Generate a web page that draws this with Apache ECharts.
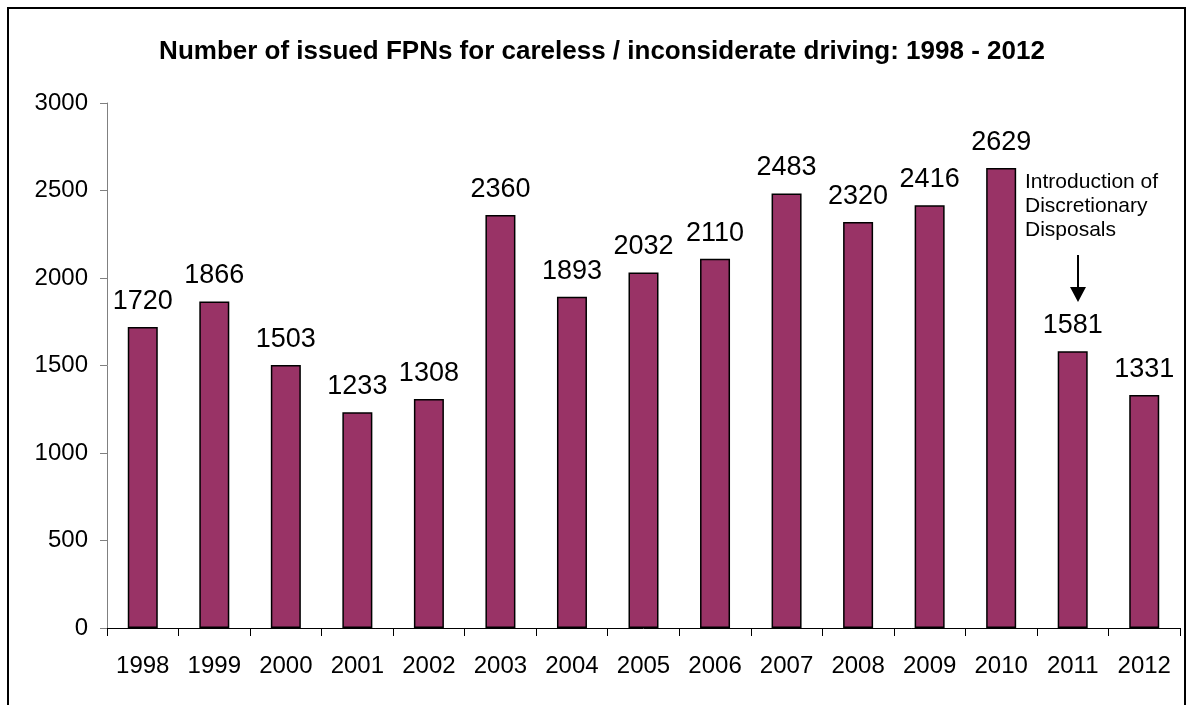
<!DOCTYPE html>
<html>
<head>
<meta charset="utf-8" />
<title>FPNs careless driving</title>
<script src="https://cdn.jsdelivr.net/npm/echarts@6/dist/echarts.min.js"></script>
<style>
  html, body { margin: 0; padding: 0; background: #fff; }
  #chart { width: 1188px; height: 705px; }
</style>
</head>
<body>
<div id="chart"></div>
<script>
// data
var years = ['1998', '1999', '2000', '2001', '2002', '2003', '2004', '2005',
  '2006', '2007', '2008', '2009', '2010', '2011', '2012'];
var fpns = [1720, 1866, 1503, 1233, 1308, 2360, 1893, 2032, 2110, 2483, 2320, 2416, 2629, 1581, 1331];

var font = 'Liberation Sans, Arial, sans-serif';
var myChart = echarts.init(document.getElementById('chart'));

myChart.setOption({
  animation: false,
  title: {
    text: 'Number of issued FPNs for careless / inconsiderate driving: 1998 - 2012',
    left: 597,
    textAlign: 'center',
    top: 34,
    textStyle: { fontFamily: font, fontSize: 26, fontWeight: 'bold', color: '#000' }
  },
  grid: { left: 107, right: 8, top: 103, bottom: 77 },
  xAxis: {
    type: 'category',
    data: years,
    axisLine: { lineStyle: { color: '#000', width: 1 } },
    axisTick: { show: true, length: 8, lineStyle: { color: '#000' } },
    axisLabel: { fontFamily: font, fontSize: 24, color: '#000', margin: 26 }
  },
  yAxis: {
    type: 'value',
    min: 0,
    max: 3000,
    interval: 500,
    splitLine: { show: false },
    axisLine: { show: true, lineStyle: { color: '#808080', width: 1 } },
    axisTick: { show: true, length: 7, lineStyle: { color: '#808080' } },
    axisLabel: {
      fontFamily: font, fontSize: 24, color: '#000', margin: 19,
      formatter: function(v) { return String(v); }
    }
  },
  series: [{
    type: 'bar',
    data: fpns,
    barWidth: 30,
    itemStyle: { color: '#993366', borderColor: '#000', borderWidth: 1.5 },
    label: {
      show: true,
      position: 'top',
      distance: 12,
      fontFamily: font,
      fontSize: 27,
      color: '#000'
    }
  }],
  graphic: [
    // outer frame
    { type: 'rect', shape: { x: 8, y: 8, width: 1177, height: 720 },
      style: { fill: 'none', stroke: '#000', lineWidth: 2 }, silent: true },
    // annotation
    { type: 'text', left: 1025, top: 170,
      style: { text: 'Introduction of\nDiscretionary\nDisposals', fontFamily: font,
        fontSize: 21, lineHeight: 24, fill: '#000' } },
    { type: 'line', shape: { x1: 1078, y1: 255, x2: 1078, y2: 289 },
      style: { stroke: '#000', lineWidth: 2 } },
    { type: 'polygon', shape: { points: [[1070, 287], [1086, 287], [1078, 302]] },
      style: { fill: '#000' } }
  ]
});

window.onresize = function() {
  myChart.resize();
};
</script>
</body>
</html>
